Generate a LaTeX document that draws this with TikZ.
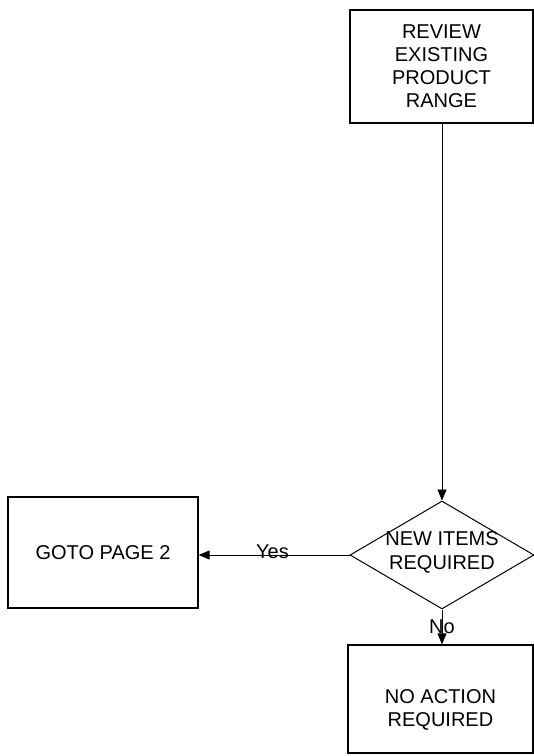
\documentclass[tikz,border=0pt]{standalone}
\usepackage{fontspec}
\setmainfont{Liberation Sans}
\usetikzlibrary{arrows.meta,shapes.geometric}

\begin{document}
\begin{tikzpicture}[x=1pt,y=-1pt,
  every node/.style={font=\fontsize{20}{23}\selectfont, inner sep=0pt},
  procbox/.style={draw, line width=1.2pt, rectangle},
  decision/.style={draw, line width=1pt, diamond},
  boxtext/.style={align=center},
  flow/.style={draw, line width=0.8pt, -{Triangle[length=11pt,width=9pt]}},
  flowlabel/.style={fill=none}
]
\useasboundingbox (0,0) rectangle (534,756);

% process boxes
\node[procbox, minimum width=183pt, minimum height=113pt, boxtext]
  (review) at (441.5,66.5) {REVIEW\\EXISTING\\PRODUCT\\RANGE};
\node[procbox, minimum width=190pt, minimum height=111pt]
  (goto) at (103,552.5) {GOTO PAGE 2};
\node[procbox, minimum width=185pt, minimum height=108pt]
  (noact) at (440.5,699) {};
\node[boxtext] (noacttext) at (440.5,710) {NO ACTION\\REQUIRED};

% decision
\node[decision, minimum width=184pt, minimum height=108pt]
  (newitems) at (442,555) {};
\node[boxtext, font=\fontsize{20}{24}\selectfont] (newitemstext) at (442,552)
  {NEW ITEMS\\REQUIRED};

% connectors
\draw[flow] (review.south -| newitems.north) -- (newitems.north);
\draw[flow] (newitems.west) -- node[flowlabel, pos=0.51, yshift=3pt] (yes) {Yes} (newitems.west -| goto.east);
\draw[flow] (newitems.south) -- node[flowlabel, pos=0.5] (no) {No} (newitems.south |- noact.north);
\end{tikzpicture}
\end{document}
